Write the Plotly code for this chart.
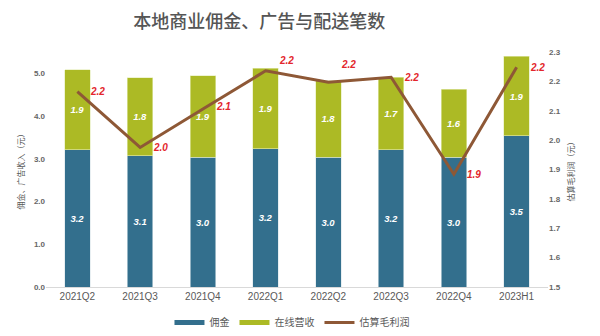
import plotly.graph_objects as go

# Quarterly figures (yuan per order)
periods = ["2021Q2", "2021Q3", "2021Q4", "2022Q1", "2022Q2", "2022Q3", "2022Q4", "2023H1"]
commission = [3.21, 3.07, 3.04, 3.23, 3.04, 3.21, 3.04, 3.54]
online_rev = [1.87, 1.83, 1.90, 1.89, 1.79, 1.70, 1.59, 1.86]
gross_profit = [2.165, 1.975, 2.106, 2.236, 2.197, 2.214, 1.884, 2.248]
# vertical nudge (px) for profit labels that sit above the line
profit_label_lift = [0, 0, 2, 10, 18, 0, 0, 0]

BLUE = "#336f8d"
GREEN = "#acba25"
BROWN = "#8e5836"
RED = "#e3262c"
FONT = "Liberation Sans, Noto Sans CJK SC, sans-serif"

fig = go.Figure()

fig.add_trace(go.Bar(
    x=periods, y=commission, name="佣金", marker_color=BLUE,
    marker_line=dict(color="#d8e4ea", width=0.6),
    texttemplate="%{y:.1f}", textposition="inside", insidetextanchor="middle",
    textfont=dict(color="white", size=9.5, family=FONT, style="italic", weight="bold"),
    showlegend=False,
))
fig.add_trace(go.Bar(
    x=periods, y=online_rev, name="在线营收", marker_color=GREEN,
    marker_line=dict(color="#e4ecb8", width=0.6),
    texttemplate="%{y:.1f}", textposition="inside", insidetextanchor="middle",
    textfont=dict(color="white", size=9.5, family=FONT, style="italic", weight="bold"),
    showlegend=False,
))
fig.add_trace(go.Scatter(
    x=periods, y=gross_profit, name="估算毛利润", yaxis="y2", mode="lines",
    line=dict(color=BROWN, width=3), showlegend=False,
))

# Profit value labels to the right of each point
for p, v, lift in zip(periods, gross_profit, profit_label_lift):
    fig.add_annotation(
        x=p, y=v, xref="x", yref="y2", text=f"{v:.1f}", showarrow=False,
        xanchor="left", yanchor="middle", xshift=11, yshift=lift,
        font=dict(color=RED, size=10, family=FONT, style="italic", weight="bold"),
    )

# Legend entries drawn as thick line swatches
for name, color, width in [("佣金", BLUE, 5), ("在线营收", GREEN, 5), ("估算毛利润", BROWN, 3)]:
    fig.add_trace(go.Scatter(x=[None], y=[None], mode="lines", name=name,
                             line=dict(color=color, width=width), showlegend=True))

fig.update_layout(
    width=600, height=336,
    barmode="stack", bargap=0.59,
    paper_bgcolor="white", plot_bgcolor="white",
    margin=dict(l=46, r=52, t=52, b=49, autoexpand=False),
    font=dict(family=FONT, color="#595959"),
    title=dict(text="本地商业佣金、广告与配送笔数", x=0.432, xanchor="center",
               y=0.935, yanchor="middle",
               font=dict(size=18, color="#555555", family="Noto Sans CJK SC", weight=500)),
    xaxis=dict(showline=True, linecolor="#d9d9d9", linewidth=1, ticks="",
               tickfont=dict(size=10, color="#595959")),
    yaxis=dict(range=[0, 5.5], tick0=0, dtick=1, tickformat=".1f", showgrid=False,
               zeroline=False, tickfont=dict(size=8, color="#666666", weight="bold"),
               title=dict(text="佣金、广告收入（元）", font=dict(size=8, color="#595959"), standoff=8)),
    yaxis2=dict(range=[1.5, 2.3], tick0=1.5, dtick=0.1, tickformat=".1f", overlaying="y",
                side="right", showgrid=False, zeroline=False,
                tickfont=dict(size=8, color="#666666", weight="bold"),
                title=dict(text="估算毛利润（元）", font=dict(size=8, color="#595959"), standoff=8)),
    legend=dict(orientation="h", x=0.49, xanchor="center", yref="container",
                y=0.04, yanchor="middle", traceorder="normal",
                font=dict(size=10, color="#595959"), itemwidth=30),
)

fig.write_html("out.html")
